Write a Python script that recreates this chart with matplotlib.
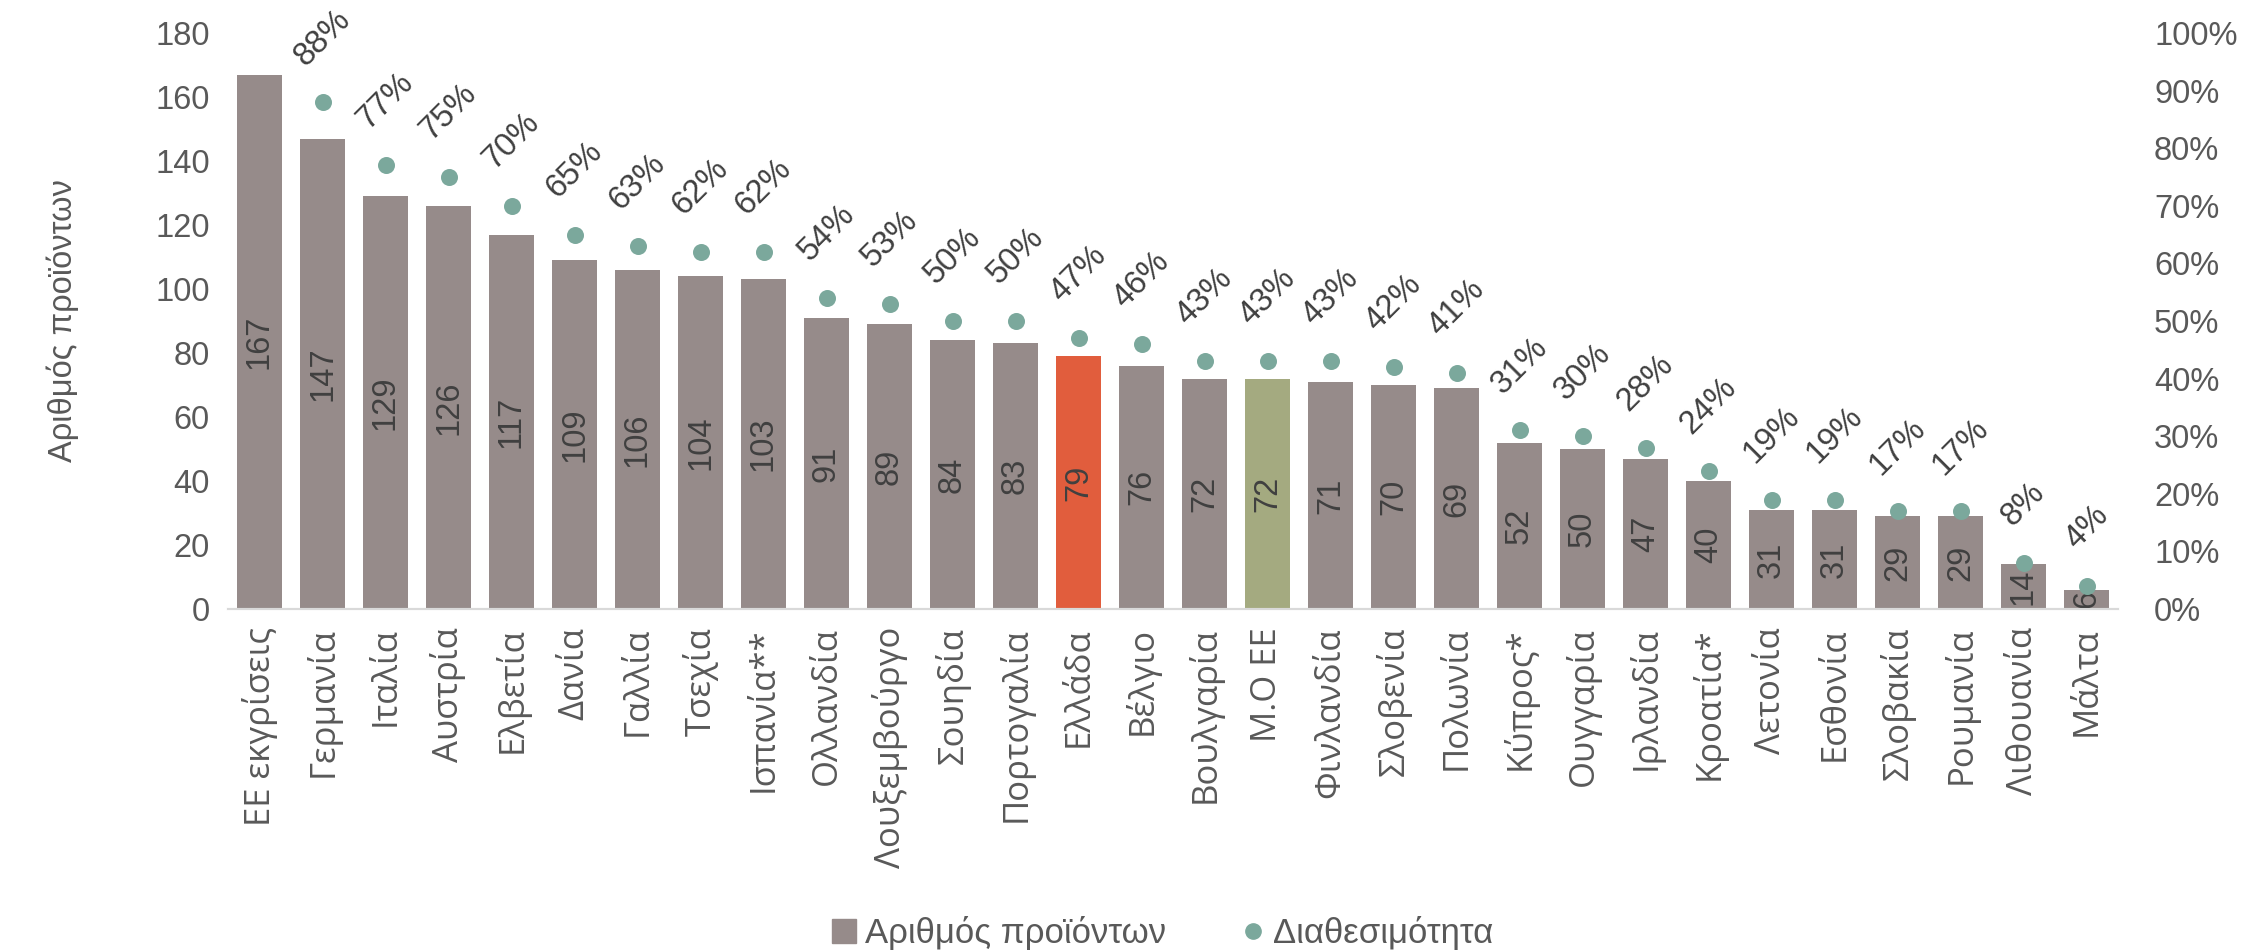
import matplotlib
matplotlib.use("Agg")
import matplotlib.pyplot as plt
import matplotlib.ticker as ticker
from matplotlib.lines import Line2D

# font set
plt.rcParams['font.family'] = ['Liberation Sans', 'DejaVu Sans']
plt.rcParams['axes.unicode_minus'] = False

# data
countries = ["ΕΕ εκγρίσεις", "Γερμανία", "Ιταλία", "Αυστρία", "Ελβετία", "Δανία",
             "Γαλλία", "Τσεχία", "Ισπανία**", "Ολλανδία", "Λουξεμβούργο", "Σουηδία",
             "Πορτογαλία", "Ελλάδα", "Βέλγιο", "Βουλγαρία", "Μ.Ο ΕΕ", "Φινλανδία",
             "Σλοβενία", "Πολωνία", "Κύπρος*", "Ουγγαρία", "Ιρλανδία", "Κροατία*",
             "Λετονία", "Εσθονία", "Σλοβακία", "Ρουμανία", "Λιθουανία", "Μάλτα"]
products = [167, 147, 129, 126, 117, 109, 106, 104, 103, 91, 89, 84, 83, 79, 76,
            72, 72, 71, 70, 69, 52, 50, 47, 40, 31, 31, 29, 29, 14, 6]
availability = [None, 88, 77, 75, 70, 65, 63, 62, 62, 54, 53, 50, 50, 47, 46,
                43, 43, 43, 42, 41, 31, 30, 28, 24, 19, 19, 17, 17, 8, 4]
highlight = {"Ελλάδα": "#E15D3D", "Μ.Ο ΕΕ": "#A4AA80"}

BAR = "#968B8A"
DOT = "#7BA89C"
TXT = "#404040"
TICK = "#595959"
FS = 23.5

fig = plt.figure(figsize=(22.46, 9.5), dpi=100)
ax = fig.add_axes([228 / 2246, 341 / 950, 1890 / 2246, 576 / 950])
ax2 = ax.twinx()

x = list(range(len(countries)))
colors = [highlight.get(c, BAR) for c in countries]
ax.bar(x, products, width=0.73, color=colors, zorder=2)

for xi, v in zip(x, products):
    ax.text(xi, v / 2, str(v), rotation=90, ha='center', va='center',
            fontsize=FS, color=TXT, zorder=3)

ax.set_xlim(-0.5, len(countries) - 0.5)
ax.set_ylim(0, 180)
ax.yaxis.set_major_locator(ticker.MultipleLocator(20))
ax.set_xticks(x)
ax.set_xticklabels(countries, rotation=90, fontsize=25, color=TICK,
                   family=['Open Sans', 'DejaVu Sans'])
ax.tick_params(axis='x', length=0, pad=13)
ax.tick_params(axis='y', length=0, pad=13, labelsize=FS, labelcolor=TICK)
ax.set_ylabel("Αριθμός προϊόντων", fontsize=FS, color=TICK)
ax.yaxis.set_label_coords(-0.079, 0.5)

# availability dots
px = [xi for xi, a in zip(x, availability) if a is not None]
py = [a / 100 for a in availability if a is not None]
ax2.scatter(px, py, s=150, color=DOT, zorder=4, linewidths=0)
for xi, yi in zip(px, py):
    ax2.annotate(f"{round(yi * 100)}%", (xi, yi), xytext=(0, 22),
                 textcoords='offset points', rotation=45, ha='center', va='bottom',
                 fontsize=FS, color=TXT)
ax2.set_ylim(0, 1)
ax2.yaxis.set_major_locator(ticker.MultipleLocator(0.1))
ax2.yaxis.set_major_formatter(ticker.PercentFormatter(1.0, decimals=0))
ax2.tick_params(axis='y', length=0, pad=26, labelsize=FS, labelcolor=TICK)

for a in (ax, ax2):
    for s in ('top', 'left', 'right'):
        a.spines[s].set_visible(False)
    a.spines['bottom'].set_color('#D9D9D9')
    a.spines['bottom'].set_linewidth(1.5)

handles = [
    Line2D([], [], marker='s', linestyle='none', markersize=17, color=BAR),
    Line2D([], [], marker='o', linestyle='none', markersize=11, color=DOT),
]
fig.legend(handles, ["Αριθμός προϊόντων", "Διαθεσιμότητα"], loc='center',
           bbox_to_anchor=(1160 / 2246, 17 / 950), ncol=2, frameon=False,
           handletextpad=0.1, columnspacing=2.0, handlelength=1.0,
           prop={'family': ['Liberation Sans Narrow', 'Liberation Sans'], 'size': 25},
           labelcolor=TICK)

fig.savefig("out.png", dpi=100)
